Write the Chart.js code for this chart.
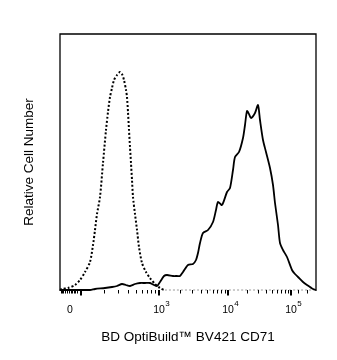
<!DOCTYPE html>
<html>
<head>
<meta charset="utf-8">
<title>BV421 CD71 histogram</title>
<script src="https://cdn.jsdelivr.net/npm/chart.js@4/dist/chart.umd.min.js"></script>
<style>
  html, body { margin: 0; padding: 0; background: #fff; }
  canvas { display: block; }
</style>
</head>
<body>
<canvas id="chart" width="337" height="360"></canvas>
<script>
// Histogram channels (0-256 along the biexponential axis) and event counts

// Isotype / unstained control (dotted)
const controlChannels = [0, 2, 8, 15, 20, 25, 30, 33, 35, 37, 40, 43, 46, 48, 50, 52, 54, 57, 60, 62,
    64, 66, 67, 68, 69, 70, 71, 72, 73, 75, 77, 79, 82, 86, 90, 95, 100, 105, 150, 200, 256];
const controlCounts = [0, 1, 2, 5, 10, 18, 28, 45, 60, 76, 93, 127, 160, 178, 193, 202, 210, 215, 218, 216,
    210, 200, 193, 178, 160, 143, 127, 110, 93, 76, 60, 43, 27, 18, 12, 6, 2, 0, 0, 0, 0];

// CD71 stained sample (solid)
const stainedChannels = [0, 30, 35, 45, 52, 57, 62, 66, 70, 75, 80, 85, 90, 94, 97, 100, 104, 107, 113, 117,
    120, 123, 128, 133, 136, 138, 140, 143, 148, 153, 156, 158, 162, 167, 170, 173, 175, 179, 183, 185,
    187, 189, 191, 195, 198, 200, 203, 206, 210, 213, 215, 218, 220, 223, 227, 232, 235, 238, 243, 247, 253, 256];
const stainedCounts = [0, 0, 1, 2, 3, 4, 6, 5, 4, 6, 7, 7, 7, 5, 4, 8, 14, 15, 14, 14,
    14, 18, 25, 26, 30, 37, 47, 57, 60, 68, 80, 88, 85, 98, 102, 120, 133, 138, 152, 165,
    179, 176, 172, 177, 185, 170, 150, 138, 122, 105, 87, 65, 47, 40, 33, 20, 16, 13, 8, 5, 1, 0];

// Axis: labelled positions (channel), mantissa text and exponent text
const labelChannels = [10, 99, 168, 231];
const labelBases = ["0", "10", "10", "10"];
const labelExponents = ["", "3", "4", "5"];

// Decade boundaries (10^2 .. 10^5) used for major and minor ticks
const decadeChannels = [21, 99, 168, 231];
const zeroTickChannels = [1, 2, 3, 4.5, 6.5, 8.5, 10.5, 12, 13.5, 15, 16.5];
const tailTickChannels = [238, 247];

const xTitle = "BD OptiBuild\u2122 BV421 CD71";
const yTitle = "Relative Cell Number";

function toPoints(xs, ys) {
    return xs.map((x, i) => ({ x: x, y: ys[i] }));
}

// Minor ticks inside each decade on a log spacing
function minorTicks() {
    const out = zeroTickChannels.slice();
    for (let d = 0; d < decadeChannels.length - 1; d++) {
        const a = decadeChannels[d], b = decadeChannels[d + 1];
        for (let k = 2; k <= 9; k++) out.push(a + (b - a) * Math.log10(k));
    }
    return out.concat(tailTickChannels);
}

const axisPlugin = {
    id: "flowAxis",
    afterDraw(chart) {
        const ctx = chart.ctx;
        const area = chart.chartArea;
        const xs = chart.scales.x;
        ctx.save();

        // frame: left, top, right
        ctx.strokeStyle = "#000";
        ctx.lineWidth = 1.3;
        ctx.beginPath();
        ctx.moveTo(area.left, area.bottom + 1);
        ctx.lineTo(area.left, area.top);
        ctx.lineTo(area.right, area.top);
        ctx.lineTo(area.right, area.bottom + 1);
        ctx.stroke();

        // ticks hanging below the baseline
        ctx.lineWidth = 1;
        minorTicks().forEach(ch => {
            const px = Math.round(xs.getPixelForValue(ch)) + 0.5;
            ctx.beginPath();
            ctx.moveTo(px, area.bottom);
            ctx.lineTo(px, area.bottom + 3.5);
            ctx.stroke();
        });
        ctx.lineWidth = 2;
        decadeChannels.forEach(ch => {
            const px = Math.round(xs.getPixelForValue(ch));
            ctx.beginPath();
            ctx.moveTo(px, area.bottom);
            ctx.lineTo(px, area.bottom + 5.5);
            ctx.stroke();
        });

        // tick labels with raised exponents
        ctx.fillStyle = "#000";
        ctx.textBaseline = "alphabetic";
        labelChannels.forEach((ch, i) => {
            const px = xs.getPixelForValue(ch);
            ctx.font = "10.5px 'Liberation Sans', Arial, sans-serif";
            ctx.textAlign = "center";
            ctx.fillText(labelBases[i], px, area.bottom + 22.5);
            if (labelExponents[i]) {
                const w = ctx.measureText(labelBases[i]).width;
                ctx.font = "8px 'Liberation Sans', Arial, sans-serif";
                ctx.textAlign = "left";
                ctx.fillText(labelExponents[i], px + w / 2 + 0.5, area.bottom + 16);
            }
        });

        // axis titles
        ctx.font = "13.5px 'Liberation Sans', Arial, sans-serif";
        ctx.textAlign = "center";
        ctx.textBaseline = "middle";
        ctx.fillText(xTitle, (area.left + area.right) / 2, 337);
        ctx.translate(29, (area.top + area.bottom) / 2);
        ctx.rotate(-Math.PI / 2);
        ctx.fillText(yTitle, 0, 0);
        ctx.restore();
    }
};

const bothZero = c => c.p0.parsed.y === 0 && c.p1.parsed.y === 0;

new Chart(document.getElementById("chart"), {
    type: "line",
    data: {
        datasets: [
            {
                label: "Stained",
                data: toPoints(stainedChannels, stainedCounts),
                borderColor: "#000",
                borderWidth: 1.8,
                pointRadius: 0,
                tension: 0.25,
                clip: false
            },
            {
                label: "Control",
                data: toPoints(controlChannels, controlCounts),
                borderColor: "#000",
                borderWidth: 2,
                borderDash: [2, 2],
                borderCapStyle: "butt",
                pointRadius: 0,
                tension: 0.25,
                clip: false,
                segment: {
                    borderColor: c => bothZero(c) ? "#9a9a9a" : "#000",
                    borderWidth: c => bothZero(c) ? 1 : 2
                }
            }
        ]
    },
    options: {
        responsive: false,
        animation: false,
        layout: { padding: { left: 60, top: 34, right: 21, bottom: 70 } },
        plugins: {
            legend: { display: false },
            tooltip: { enabled: false }
        },
        scales: {
            x: { type: "linear", min: 0, max: 256, display: false },
            y: { type: "linear", min: 0, max: 256, display: false }
        }
    },
    plugins: [axisPlugin]
});
</script>
</body>
</html>
